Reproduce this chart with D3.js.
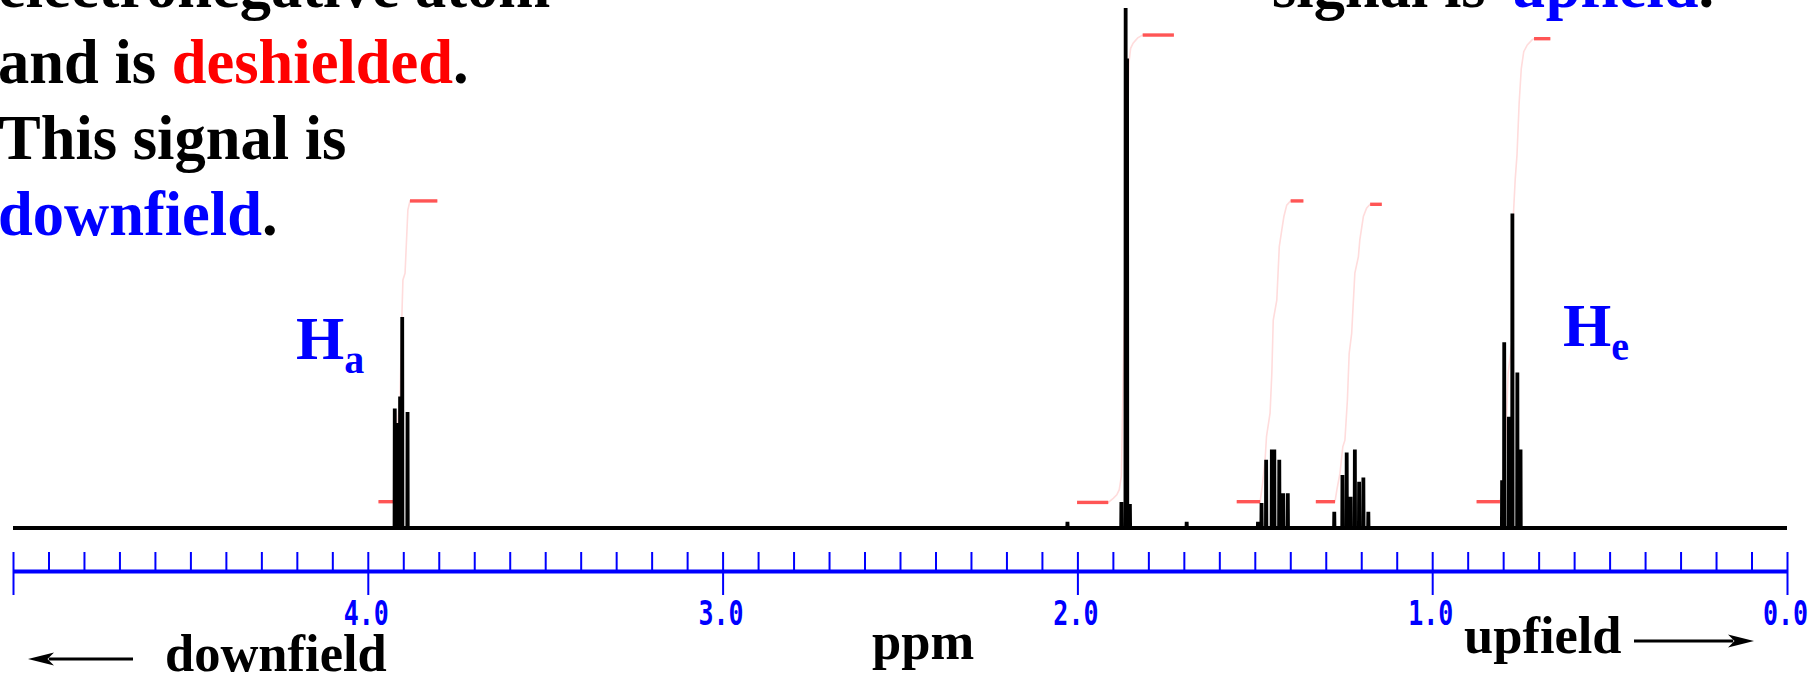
<!DOCTYPE html>
<html>
<head>
<meta charset="utf-8">
<script src="https://cdn.jsdelivr.net/npm/d3@7"></script>
<style>
  html, body { margin: 0; padding: 0; background: #fff; overflow: hidden; }
  svg { display: block; }
</style>
</head>
<body>
<svg id="chart" width="1818" height="676"></svg>
<script>
// ---- 1H NMR spectrum data: lines as [ppm, intensity (tallest line = 100)] ----
const multipletHa   = [[3.924, 23.0], [3.917, 20.2], [3.909, 25.3], [3.903, 40.6], [3.888, 22.3]];
const singlet186    = [[1.876, 5.0], [1.864, 100], [1.860, 90.3], [1.852, 4.6]];
const multiplet145  = [[1.491, 1.2], [1.481, 4.8], [1.468, 13.1], [1.452, 15.1], [1.445, 15.1],
                       [1.431, 13.1], [1.420, 6.7], [1.407, 6.7]];
const multiplet122  = [[1.276, 3.1], [1.253, 10.2], [1.241, 14.5], [1.230, 6.0], [1.218, 15.1],
                       [1.206, 8.9], [1.194, 9.7], [1.180, 3.1]];
const multipletHe   = [[0.803, 9.2], [0.797, 35.7], [0.784, 21.4], [0.774, 60.5], [0.760, 29.9], [0.751, 15.1]];
const impurities    = [[2.028, 1.2], [1.692, 1.2]];

// ---- integral traces: [ppm, level] ----
const integralHa  = [[3.970, 5.06], [3.928, 5.06], [3.923, 7.7], [3.918, 18.8], [3.909, 25.6], [3.904, 40.6],
                     [3.901, 47.7], [3.895, 49.0], [3.887, 61.2], [3.881, 62.9], [3.804, 62.9]];
const integral186 = [[2.001, 4.92], [1.913, 4.92], [1.899, 5.71], [1.889, 6.38], [1.882, 7.37], [1.876, 10.0],
                     [1.855, 89.3], [1.850, 92.25], [1.843, 93.25], [1.830, 94.25], [1.816, 94.8], [1.728, 94.8]];
const integral145 = [[1.551, 5.06], [1.485, 5.06], [1.478, 8.6], [1.471, 13.1], [1.467, 17.6], [1.457, 22.1],
                     [1.452, 29.75], [1.448, 40.0], [1.438, 43.8], [1.431, 54.1], [1.424, 57.3], [1.418, 59.9],
                     [1.410, 62.1], [1.399, 62.9], [1.363, 62.9]];
const integral122 = [[1.328, 5.06], [1.274, 5.06], [1.268, 7.6], [1.260, 10.5], [1.252, 15.6], [1.246, 16.9],
                     [1.239, 24.6], [1.234, 33.6], [1.227, 37.4], [1.218, 49.0], [1.208, 52.2], [1.204, 55.4],
                     [1.194, 59.9], [1.185, 61.5], [1.175, 62.25], [1.142, 62.25]];
const integralHe  = [[0.875, 5.06], [0.809, 5.06], [0.801, 7.3], [0.795, 11.15], [0.790, 22.1], [0.786, 29.75],
                     [0.776, 35.2], [0.771, 60.4], [0.766, 67.1], [0.761, 71.7], [0.755, 81.65], [0.749, 88.3],
                     [0.742, 91.6], [0.732, 92.9], [0.718, 93.9], [0.713, 94.1], [0.667, 94.1]];

// ---- axis ticks ----
const majorTicks = [5, 4, 3, 2, 1, 0];
const tickLabels = ["", "4.0", "3.0", "2.0", "1.0", "0.0"];
const minorTicks = d3.range(0, 51).map(i => i / 10);

const svg = d3.select("#chart");
const x = d3.scaleLinear().domain([5, 0]).range([13, 1787]);
const y = d3.scaleLinear().domain([0, 100]).range([528, 8]);

// ---- integrals (faint rising trace, solid flat ends) ----
const integrals = [integralHa, integral186, integral145, integral122, integralHe];
const iline = d3.line().x(d => x(d[0])).y(d => y(d[1]));
svg.append("g").selectAll("path").data(integrals).join("path")
  .attr("d", iline)
  .attr("fill", "none")
  .attr("stroke", "#ffdcdc")
  .attr("stroke-width", 1.6);
const flats = integrals.flatMap(t => [t.slice(0, 2), t.slice(-2)]);
svg.append("g").selectAll("path").data(flats).join("path")
  .attr("d", iline)
  .attr("fill", "none")
  .attr("stroke", "#ff5555")
  .attr("stroke-width", 3.4);

// ---- spectrum trace ----
const lines = [].concat(multipletHa, singlet186, multiplet145, multiplet122, multipletHe, impurities)
  .sort((a, b) => b[0] - a[0]);
const eps = 0.0006;
const trace = [[5, 0]];
lines.forEach(([p, h]) => { trace.push([p + eps, 0], [p, h], [p - eps, 0]); });
trace.push([0, 0]);
svg.append("path")
  .attr("d", d3.line().x(d => x(d[0])).y(d => y(d[1]))(trace))
  .attr("fill", "none")
  .attr("stroke", "#000")
  .attr("stroke-width", 3.8)
  .attr("stroke-linejoin", "bevel");

// ---- ppm axis ----
const axisY = 571;
const minorAxis = svg.append("g").attr("transform", `translate(0,${axisY})`)
  .call(d3.axisTop(x).tickValues(minorTicks).tickSize(19).tickSizeOuter(0).tickFormat(""));
minorAxis.select(".domain").attr("stroke", "#0000ff").attr("stroke-width", 4);
minorAxis.selectAll(".tick line").attr("stroke", "#0000ff").attr("stroke-width", 2);

const majorAxis = svg.append("g").attr("transform", `translate(0,${axisY})`)
  .call(d3.axisBottom(x).tickValues(majorTicks).tickSize(24).tickSizeOuter(0)
    .tickFormat((d, i) => tickLabels[i]));
majorAxis.select(".domain").remove();
majorAxis.selectAll(".tick line").attr("stroke", "#0000ff").attr("stroke-width", 2);
majorAxis.selectAll(".tick text")
  .attr("y", 0).attr("dy", 0)
  .attr("transform", "translate(-2,54) scale(1,1.35)")
  .attr("fill", "#0000ff")
  .attr("font-family", "'DejaVu Sans Mono', monospace")
  .attr("font-weight", "bold")
  .attr("font-size", 25);

// ---- annotations ----
const serif = "'Liberation Serif', 'Times New Roman', serif";
function para(xp, yp, size, parts) {
  const t = svg.append("text").attr("x", xp).attr("y", yp)
    .attr("font-family", serif).attr("font-weight", "bold").attr("font-size", size);
  parts.forEach(([s, c, px]) => {
    const ts = t.append("tspan").text(s).attr("fill", c);
    if (px !== undefined) ts.attr("x", px);
  });
  return t;
}
para(-2, 7, 62.5, [["electronegative atom", "#000"]]);
para(-2, 83, 62.5, [["and is ", "#000"], ["deshielded", "#ff0000"], [".", "#000"]]);
para(-1, 159, 62.5, [["This signal is", "#000"]]);
para(-2, 235, 62.5, [["downfield", "#0000ff"], [".", "#000"]]);
para(1272, 7, 62.5, [["signal is ", "#000"], ["upfield", "#0000ff", 1511], [".", "#000"]]);

// proton labels
function protonLabel(xp, yp, sub) {
  const t = svg.append("text").attr("x", xp).attr("y", yp)
    .attr("font-family", serif).attr("font-weight", "bold").attr("fill", "#0000ff");
  t.append("tspan").attr("font-size", 62).text("H");
  t.append("tspan").attr("font-size", 40).attr("dy", 14).text(sub);
}
protonLabel(296, 359, "a");
protonLabel(1563, 346, "e");

// bottom captions
para(165, 671, 52.5, [["downfield", "#000"]]);
para(872, 659, 52.5, [["ppm", "#000"]]);
para(1464, 653, 52.5, [["upfield", "#000"]]);

function arrow(x1, x2, yy) {
  const dir = Math.sign(x2 - x1);
  const headLen = 26, half = 6.5;
  svg.append("line").attr("x1", x1).attr("x2", x2 - dir * headLen * 0.8)
    .attr("y1", yy).attr("y2", yy).attr("stroke", "#000").attr("stroke-width", 3.2);
  svg.append("path")
    .attr("d", `M${x2},${yy} L${x2 - dir * headLen},${yy - half} L${x2 - dir * headLen * 0.75},${yy} L${x2 - dir * headLen},${yy + half} Z`)
    .attr("fill", "#000");
}
arrow(133, 28, 659);
arrow(1634, 1754, 641);
</script>
</body>
</html>
